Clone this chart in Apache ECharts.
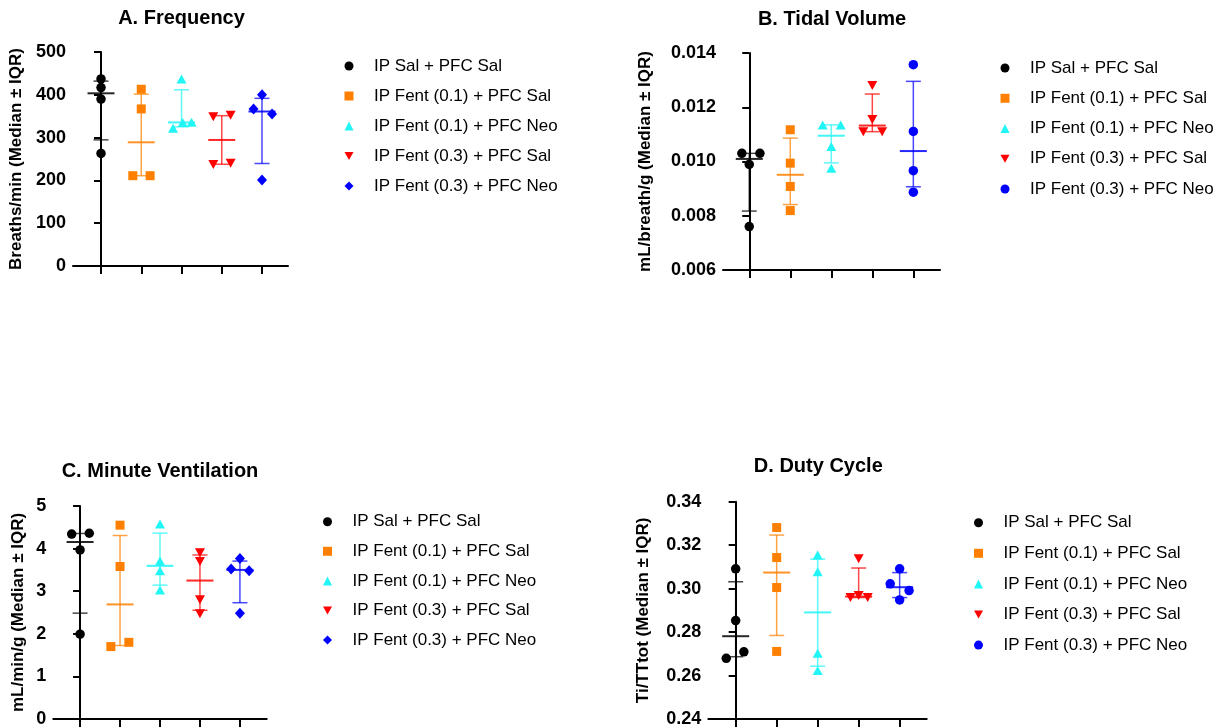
<!DOCTYPE html>
<html>
<head>
<meta charset="utf-8">
<title>Respiratory parameters</title>
<script src="https://cdn.jsdelivr.net/npm/echarts@6/dist/echarts.min.js"></script>
<style>
  html, body { margin: 0; padding: 0; background: #fff; }
  #chart { width: 1228px; height: 728px; }
</style>
</head>
<body>
<div id="chart"></div>
<script>
// Treatment groups (one column per group on every panel)
const groups = [
  'IP Sal + PFC Sal',
  'IP Fent (0.1) + PFC Sal',
  'IP Fent (0.1) + PFC Neo',
  'IP Fent (0.3) + PFC Sal',
  'IP Fent (0.3) + PFC Neo'
];

// Individual animals, one array per group
const frequency = [
  [437, 417, 390, 263],
  [413, 367, 211, 211],
  [437, 322, 335, 336],
  [349, 352, 237, 240],
  [400, 367, 355, 201]
];
const tidalVolume = [
  [0.0103, 0.0103, 0.00989, 0.0076],
  [0.01117, 0.00994, 0.00908, 0.00819],
  [0.01135, 0.01135, 0.01055, 0.00975],
  [0.0128, 0.01155, 0.0111, 0.0111],
  [0.01357, 0.01111, 0.00966, 0.00887]
];
const minuteVentilation = [
  [4.34, 4.36, 3.97, 1.99],
  [4.55, 3.58, 1.70, 1.80],
  [4.58, 3.71, 3.48, 3.03],
  [3.90, 3.70, 2.80, 2.47],
  [3.77, 3.52, 3.48, 2.48]
];
const dutyCycle = [
  [0.3091, 0.2853, 0.2709, 0.2679],
  [0.3281, 0.3143, 0.3005, 0.2711],
  [0.3155, 0.3078, 0.2703, 0.2623],
  [0.3137, 0.2959, 0.2968, 0.2959],
  [0.3091, 0.3022, 0.2991, 0.2948]
];

// Axis ticks
const freqTicks = [0, 100, 200, 300, 400, 500];
const tvTicks = [0.006, 0.008, 0.010, 0.012, 0.014];
const mvTicks = [0, 1, 2, 3, 4, 5];
const dcTicks = [0.24, 0.26, 0.28, 0.30, 0.32, 0.34];

// ---- drawing setup ----
const FONT = '"Liberation Sans", Arial, Helvetica, sans-serif';
const colors = ['#000000', '#FF8000', '#22F5F5', '#FF0000', '#0000FF'];
const INV_TRI = 'path://M0,0L10,0L5,9Z';
const symbolsDiamond = ['circle', 'rect', 'triangle', INV_TRI, 'diamond'];
const symbolsCircle = ['circle', 'rect', 'triangle', INV_TRI, 'circle'];
const symbolSizes = [9, 9, [10, 9], [10, 9], [10, 11]];

// horizontal spread of overlapping points within a column (category units)
const spreadFreq = [[0, 0, 0, 0], [0, 0, -0.21, 0.22], [0, -0.21, 0.03, 0.25], [-0.21, 0.22, -0.21, 0.22], [0, -0.21, 0.25, 0]];
const spreadTv = [[-0.18, 0.26, 0, 0], [0, 0, 0, 0], [-0.21, 0.23, 0, 0], [0, 0, -0.22, 0.24], [0, 0, 0, 0]];
const spreadMv = [[-0.21, 0.23, 0, 0], [0, 0, -0.23, 0.22], [0, 0, 0, 0], [0, 0, 0, 0], [0, -0.22, 0.23, 0]];
const spreadDc = [[0, 0, 0.2, -0.23], [0, 0, 0, 0], [0, 0, 0, 0], [0, -0.2, 0, 0.22], [0, -0.23, 0.23, 0]];

// quantile with the (n+1)p rule
function quantile(values, p) {
  const s = values.slice().sort((a, b) => a - b);
  const n = s.length;
  const pos = (n + 1) * p;
  const lo = Math.floor(pos);
  if (lo < 1) return s[0];
  if (lo >= n) return s[n - 1];
  return s[lo - 1] + (pos - lo) * (s[lo] - s[lo - 1]);
}

const panels = [
  { title: 'A. Frequency', titleX: 181.5, titleY: 8, name: 'Breaths/min (Median \u00b1 IQR)', nameGap: 48,
    data: frequency, spread: spreadFreq, ticks: freqTicks, digits: 0, symbols: symbolsDiamond,
    grid: { left: 73, top: 52, width: 215, height: 214 }, xMin: -0.696, xMax: 4.646,
    legend: { left: 344.5, top: 56, gap: 10 } },
  { title: 'B. Tidal Volume', titleX: 832, titleY: 9, name: 'mL/breath/g (Median \u00b1 IQR)', nameGap: 69,
    data: tidalVolume, spread: spreadTv, ticks: tvTicks, digits: 3, symbols: symbolsCircle,
    grid: { left: 723, top: 53, width: 217, height: 217 }, xMin: -0.64, xMax: 4.65,
    legend: { left: 1000.5, top: 58, gap: 10.25 } },
  { title: 'C. Minute Ventilation', titleX: 160, titleY: 461.5, name: 'mL/min/g (Median \u00b1 IQR)', nameGap: 26,
    data: minuteVentilation, spread: spreadMv, ticks: mvTicks, digits: 0, symbols: symbolsDiamond,
    grid: { left: 53.3, top: 506, width: 213.4, height: 213.3 }, xMin: -0.67, xMax: 4.67,
    legend: { left: 323, top: 511.7, gap: 9.6 } },
  { title: 'D. Duty Cycle', titleX: 818.3, titleY: 456.7, name: 'Ti/TTtot (Median \u00b1 IQR)', nameGap: 56,
    data: dutyCycle, spread: spreadDc, ticks: dcTicks, digits: 2, symbols: symbolsCircle,
    grid: { left: 708.3, top: 501.7, width: 218.4, height: 217.6 }, xMin: -0.668, xMax: 4.66,
    legend: { left: 974, top: 512.7, gap: 10.6 } }
];

function errorBarRenderer(color) {
  return function (params, api) {
    const x = api.value(0);
    const top = api.coord([x, api.value(3)]);
    const bot = api.coord([x, api.value(1)]);
    const mid = api.coord([x, api.value(2)]);
    const lineStyle = { stroke: color, lineWidth: 1.5, opacity: 0.72 };
    const cap = 7.5, half = 13.5;
    return {
      type: 'group',
      children: [
        { type: 'line', shape: { x1: top[0], y1: top[1], x2: bot[0], y2: bot[1] }, style: lineStyle },
        { type: 'line', shape: { x1: top[0] - cap, y1: top[1], x2: top[0] + cap, y2: top[1] }, style: lineStyle },
        { type: 'line', shape: { x1: bot[0] - cap, y1: bot[1], x2: bot[0] + cap, y2: bot[1] }, style: lineStyle },
        { type: 'line', shape: { x1: mid[0] - half, y1: mid[1], x2: mid[0] + half, y2: mid[1] },
          style: { stroke: color, lineWidth: 2, opacity: 0.85 } }
      ]
    };
  };
}

const option = {
  backgroundColor: '#ffffff',
  animation: false,
  title: [], grid: [], xAxis: [], yAxis: [], legend: [], series: []
};

panels.forEach((p, k) => {
  option.title.push({
    text: p.title, left: p.titleX, top: p.titleY, textAlign: 'center', padding: 0,
    textStyle: { fontFamily: FONT, fontSize: 20, fontWeight: 'bold', color: '#000', lineHeight: 20 }
  });
  option.grid.push(Object.assign({ containLabel: false }, p.grid));
  option.xAxis.push({
    type: 'value', gridIndex: k, min: p.xMin, max: p.xMax,
    axisLine: { show: true, onZero: false, lineStyle: { color: '#000', width: 2 } },
    axisTick: { show: true, customValues: [0, 1, 2, 3, 4], length: 8, lineStyle: { color: '#000', width: 2 } },
    axisLabel: { show: false },
    splitLine: { show: false }
  });
  const step = p.ticks[1] - p.ticks[0];
  option.yAxis.push({
    type: 'value', gridIndex: k,
    min: p.ticks[0], max: p.ticks[p.ticks.length - 1], interval: step,
    name: p.name, nameLocation: 'middle', nameRotate: 90, nameGap: p.nameGap,
    nameTextStyle: { fontFamily: FONT, fontSize: 17, fontWeight: 'bold', color: '#000' },
    axisLine: { show: true, lineStyle: { color: '#000', width: 2 } },
    axisTick: { show: true, length: 7, lineStyle: { color: '#000', width: 2 } },
    axisLabel: {
      margin: 7, fontFamily: FONT, fontSize: 18, fontWeight: 'bold', color: '#000',
      formatter: v => Number(v).toFixed(p.digits)
    },
    splitLine: { show: false }
  });
  option.legend.push({
    orient: 'vertical', left: p.legend.left, top: p.legend.top, padding: 0,
    itemWidth: 9, itemHeight: 9, itemGap: p.legend.gap, selectedMode: false,
    textStyle: { fontFamily: FONT, fontSize: 17, color: '#000', lineHeight: 20, padding: [0, 0, 0, 15.5] },
    data: groups.map((g, i) => ({ name: g, icon: p.symbols[i], itemStyle: { color: colors[i] } }))
  });
  groups.forEach((g, i) => {
    const vals = p.data[i];
    option.series.push({
      type: 'custom', name: g, xAxisIndex: k, yAxisIndex: k, z: 2,
      renderItem: errorBarRenderer(colors[i]),
      encode: { x: 0, y: [1, 2, 3] },
      data: [[i, quantile(vals, 0.25), quantile(vals, 0.5), quantile(vals, 0.75)]],
      silent: true
    });
    option.series.push({
      type: 'scatter', name: g, xAxisIndex: k, yAxisIndex: k, z: 3,
      symbol: p.symbols[i], symbolSize: p.symbols[i] === 'circle' ? 9.5 : symbolSizes[i],
      itemStyle: { color: colors[i], opacity: 1 },
      data: vals.map((v, j) => [i + p.spread[i][j], v])
    });
  });
});

const chart = echarts.init(document.getElementById('chart'), null, { renderer: 'canvas' });
chart.setOption(option);
</script>
</body>
</html>
